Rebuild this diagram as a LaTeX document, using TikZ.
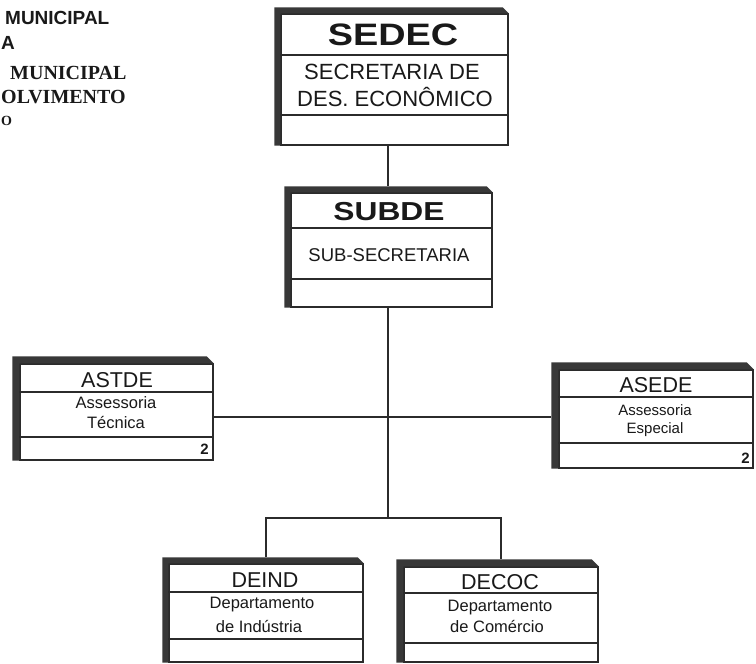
\documentclass[tikz,border=0pt]{standalone}
\usepackage{fontspec}
\setmainfont{Liberation Sans}
\newfontfamily\serifb{Liberation Serif}
\definecolor{ink}{HTML}{2B2B2B}
\definecolor{bandc}{HTML}{383838}
\newcommand\orgbox[8]{%
  \node[obox, minimum width={#4-#2}, minimum height={#5-#3}] (#1) at ({(#2+#4)/2},{(#3+#5)/2}) {};
  \fill[bandc] ([shift={(-#6,-#6)}]#1.north west) -- ([shift={(-#6,-#6)}]#1.north east)
     -- (#1.north east) -- (#1.north west) -- (#1.south west) -- ([shift={(-#6,0)}]#1.south west) -- cycle;
  \draw[ink, line width=1.2pt] (#1.west |- 0,#7) -- (#1.east |- 0,#7);
  \draw[ink, line width=1.2pt] (#1.west |- 0,#8) -- (#1.east |- 0,#8);
}
\begin{document}
\begin{tikzpicture}[x=1pt,y=-1pt,
  obox/.style={draw=ink, line width=1.3pt, rectangle, inner sep=0pt, fill=white},
  conn/.style={draw=ink, line width=1.2pt},
  txt/.style={inner sep=0pt, text=black!90},
  bigt/.style={txt, font=\fontsize{31}{33}\selectfont\bfseries},
  midt/.style={txt, font=\fontsize{22}{24}\selectfont},
  subt/.style={txt, font=\fontsize{18.5}{20}\selectfont},
  code/.style={txt, font=\fontsize{21.5}{23}\selectfont},
  desc/.style={txt, font=\fontsize{16.5}{18}\selectfont},
  num/.style={txt, font=\fontsize{15}{16}\selectfont\bfseries, anchor=east},
  headS/.style={txt, anchor=west, font=\fontsize{19}{21}\selectfont\bfseries},
  headR/.style={txt, anchor=west, font=\fontsize{20}{22}\selectfont\serifb\bfseries}]
\useasboundingbox[fill=white] (0,0) rectangle (756,664);

% header fragment (top left)
\node[headS] (h1) at (5,18) {MUNICIPAL};
\node[headS] (h2) at (1,43) {A};
\node[headR] (h3) at (10,73) {MUNICIPAL};
\node[headR] (h4) at (1,97) {OLVIMENTO};
\node[headR, font=\fontsize{14}{16}\selectfont\serifb\bfseries] (h5) at (1,121) {O};

% junction points
\coordinate (trunk) at (388,417);
\coordinate (branch) at (388,518);

% boxes
\orgbox{sedec}{281}{14}{508}{145}{6}{55}{115}
\orgbox{subde}{291}{193}{492}{307}{6}{228}{279}
\orgbox{astde}{20}{364}{213}{460}{7}{392}{437}
\orgbox{asede}{559}{370}{753}{468}{7}{397}{443}
\orgbox{deind}{169}{564}{363}{662}{6}{592}{639}
\orgbox{decoc}{404}{567}{598}{662}{7}{593}{643}

% connectors
\draw[conn] (sedec.south -| trunk) -- ([yshift=6pt]subde.north -| trunk);
\draw[conn] (subde.south -| trunk) -- (branch);
\draw[conn] (astde.east |- trunk) -- ([xshift=-7pt]asede.west |- trunk);
\draw[conn] ([yshift=6pt]deind.north) |- (branch) -| ([yshift=7pt]decoc.north);

% texts
\node[bigt] (sedecT) at (393,35) {\scalebox{1.22}[1]{SEDEC}};
\node[midt] (sedecA) at (392,72) {SECRETARIA DE};
\node[midt] (sedecB) at (395,97) {DES. ECONÔMICO};

\node[bigt, font=\fontsize{26}{28}\selectfont\bfseries] (subdeT) at (389,212) {\scalebox{1.22}[1]{SUBDE}};
\node[subt] (subdeA) at (389,255) {SUB-SECRETARIA};

\node[code] (astdeT) at (117,380) {ASTDE};
\node[desc] (astdeA) at (116,403) {Assessoria};
\node[desc] (astdeB) at (116,423) {Técnica};
\node[num] (astdeN) at (209,449) {2};

\node[code] (asedeT) at (656,385) {ASEDE};
\node[desc, font=\fontsize{15}{16}\selectfont] (asedeA) at (655,410) {Assessoria};
\node[desc, font=\fontsize{15}{16}\selectfont] (asedeB) at (655,430) {Especial};
\node[num] (asedeN) at (750,458) {2};

\node[code] (deindT) at (265,580) {DEIND};
\node[desc] (deindA) at (262,605) {Departamento};
\node[desc] (deindB) at (259,627) {de Indústria};

\node[code] (decocT) at (500,582) {DECOC};
\node[desc] (decocA) at (500,608) {Departamento};
\node[desc] (decocB) at (497,627) {de Comércio};
\end{tikzpicture}
\end{document}
